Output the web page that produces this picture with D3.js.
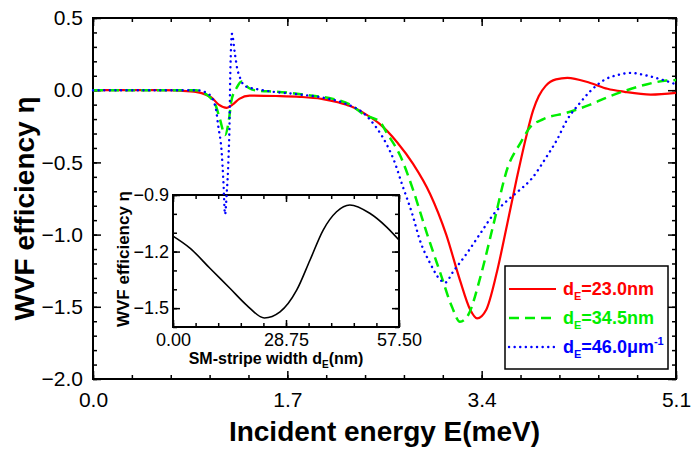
<!DOCTYPE html>
<html><head><meta charset="utf-8">
<script src="https://cdn.jsdelivr.net/npm/d3@7"></script>
<style>
body{margin:0;background:#fff;}
svg{display:block;font-family:"Liberation Sans",Arial,sans-serif;}
</style></head>
<body><svg id="c" width="691" height="449"></svg>
<script>
// ---- data ----
const redE   = [0,0.6,0.85,0.95,1.04,1.1,1.17,1.22,1.28,1.37,1.6,1.81,2.0,2.15,2.25,2.39,2.51,2.66,2.80,2.95,3.09,3.21,3.30,3.36,3.44,3.53,3.62,3.71,3.79,3.85,3.90,3.96,4.05,4.15,4.35,4.5,4.65,4.88,5.1];
const redEta = [0,0,-0.008,-0.02,-0.053,-0.1,-0.122,-0.1,-0.06,-0.037,-0.04,-0.046,-0.06,-0.085,-0.11,-0.169,-0.235,-0.36,-0.51,-0.72,-1.0,-1.315,-1.52,-1.58,-1.52,-1.27,-0.94,-0.6,-0.32,-0.14,-0.04,0.03,0.075,0.086,0.05,0.01,-0.011,-0.03,-0.018];
const greenE   = [0,0.9,0.96,1.07,1.11,1.155,1.19,1.21,1.257,1.30,1.36,1.45,1.6,1.90,2.1,2.25,2.37,2.51,2.57,2.69,2.80,2.92,3.04,3.14,3.21,3.28,3.39,3.50,3.63,3.74,3.82,3.94,4.14,4.35,4.52,4.67,4.84,5.02,5.1];
const greenEta = [0,0,-0.014,-0.1,-0.2,-0.31,-0.2,-0.076,0.017,0.06,0.017,-0.005,-0.01,-0.037,-0.06,-0.1,-0.169,-0.22,-0.296,-0.458,-0.69,-0.99,-1.27,-1.5,-1.604,-1.56,-1.29,-0.94,-0.53,-0.365,-0.26,-0.2,-0.157,-0.1,-0.042,0,0.04,0.067,0.07];
const blueE   = [0,0.9,1.0,1.07,1.096,1.126,1.14,1.155,1.17,1.185,1.195,1.20,1.205,1.215,1.242,1.26,1.286,1.33,1.45,1.81,2.0,2.19,2.38,2.48,2.57,2.63,2.71,2.79,2.86,2.95,3.04,3.08,3.15,3.27,3.39,3.50,3.63,3.72,3.84,3.97,4.06,4.14,4.26,4.35,4.47,4.61,4.70,4.84,4.99,5.1];
const blueEta = [0,0,-0.02,-0.11,-0.25,-0.435,-0.62,-0.86,-0.71,-0.48,-0.2,0.074,0.236,0.39,0.248,0.156,0.086,0.028,0.005,-0.03,-0.05,-0.088,-0.169,-0.26,-0.377,-0.48,-0.667,-0.85,-1.04,-1.2,-1.315,-1.333,-1.257,-1.13,-0.99,-0.863,-0.76,-0.7,-0.61,-0.458,-0.342,-0.215,-0.088,-0.007,0.07,0.109,0.12,0.102,0.07,0.04];
const xMajor = [0,1.7,3.4,5.1];
const yMajor = [-2,-1.5,-1,-0.5,0,0.5];
const insetD   = [0,4.39,9.46,14.54,18.78,23.24,27.23,31.46,34.84,38.21,41.61,44.99,50.06,54.3,57.5];
const insetEta = [-1.118,-1.183,-1.29,-1.396,-1.485,-1.552,-1.52,-1.405,-1.246,-1.086,-0.989,-0.953,-0.997,-1.069,-1.139];
const insetXMajor = [0,28.75,57.5];
const insetYMajor = [-0.9,-1.2,-1.5];
const legendLabels = [["23.0nm",""],["34.5nm",""],["46.0\u03bcm","-1"]];
const colors = ["#ff0000","#00ee00","#0000ff"];

// ---- main chart ----
const svg = d3.select("#c");
const L=93,R=676,T=18,B=379;
const x = d3.scaleLinear([0,5.1],[L,R]);
const y = d3.scaleLinear([-2,0.5],[B,T]);
const xMinor = d3.range(0,5.1001,0.34);
const yMinor = d3.range(-2,0.5001,0.1);

function ticks(g, axisFn, scale, vals, size, fmt, pad){
  g.call(axisFn(scale).tickValues(vals).tickSize(size).tickPadding(pad||3).tickFormat(fmt||""));
  g.select(".domain").remove();
  g.selectAll("line").attr("stroke","#000").attr("stroke-width",1.5);
}
const main = svg.append("g");
ticks(main.append("g").attr("transform",`translate(0,${B})`), d3.axisBottom, x, xMinor, -4);
ticks(main.append("g").attr("transform",`translate(0,${B})`), d3.axisBottom, x, xMajor, -8, d3.format(".1f"), 13);
ticks(main.append("g").attr("transform",`translate(0,${T})`), d3.axisTop, x, xMinor, -4);
ticks(main.append("g").attr("transform",`translate(0,${T})`), d3.axisTop, x, xMajor, -8);
ticks(main.append("g").attr("transform",`translate(${L},0)`), d3.axisLeft, y, yMinor, -4);
ticks(main.append("g").attr("transform",`translate(${L},0)`), d3.axisLeft, y, yMajor, -8, d3.format(".1f"), 10);
ticks(main.append("g").attr("transform",`translate(${R},0)`), d3.axisRight, y, yMinor, -4);
ticks(main.append("g").attr("transform",`translate(${R},0)`), d3.axisRight, y, yMajor, -8);
main.selectAll(".tick text").attr("font-size",21).attr("font-family","Liberation Sans, Arial, sans-serif").attr("fill","#000");
main.append("rect").attr("x",L).attr("y",T).attr("width",R-L).attr("height",B-T)
  .attr("fill","none").attr("stroke","#000").attr("stroke-width",2);

svg.append("text").attr("x",(L+R)/2).attr("y",441).attr("text-anchor","middle")
  .attr("font-size",28).attr("font-weight","bold").text("Incident energy E(meV)");
svg.append("text").attr("transform",`translate(34,${(T+B)/2+10}) rotate(-90)`).attr("text-anchor","middle")
  .attr("font-size",28).attr("font-weight","bold").text("WVF efficiency \u03b7");

// ---- inset ----
const iL=173,iR=399,iT=195,iB=327;
const ix = d3.scaleLinear([0,57.5],[iL,iR]);
const iy = d3.scaleLinear([-1.6,-0.9],[iB,iT]);
const ixMinor = d3.range(0,57.5001,5.75);
const iyMinor = d3.range(-1.6,-0.8999,0.1);
const ins = svg.append("g");
ins.append("rect").attr("x",iL).attr("y",iT).attr("width",iR-iL).attr("height",iB-iT).attr("fill","#fff");
ticks(ins.append("g").attr("transform",`translate(0,${iB})`), d3.axisBottom, ix, ixMinor, -4);
ticks(ins.append("g").attr("transform",`translate(0,${iB})`), d3.axisBottom, ix, insetXMajor, -7, d3.format(".2f"), 6);
ticks(ins.append("g").attr("transform",`translate(0,${iT})`), d3.axisTop, ix, ixMinor, -4);
ticks(ins.append("g").attr("transform",`translate(0,${iT})`), d3.axisTop, ix, insetXMajor, -7);
ticks(ins.append("g").attr("transform",`translate(${iL},0)`), d3.axisLeft, iy, iyMinor, -4);
ticks(ins.append("g").attr("transform",`translate(${iL},0)`), d3.axisLeft, iy, insetYMajor, -7, d3.format(".1f"), 4);
ticks(ins.append("g").attr("transform",`translate(${iR},0)`), d3.axisRight, iy, iyMinor, -4);
ticks(ins.append("g").attr("transform",`translate(${iR},0)`), d3.axisRight, iy, insetYMajor, -7);
ins.selectAll(".tick text").attr("font-size",18).attr("font-family","Liberation Sans, Arial, sans-serif").attr("fill","#000");
ins.append("rect").attr("x",iL).attr("y",iT).attr("width",iR-iL).attr("height",iB-iT)
  .attr("fill","none").attr("stroke","#000").attr("stroke-width",2);
ins.append("path").datum(insetD.map((d,i)=>[d,insetEta[i]]))
  .attr("d",d3.line().x(d=>ix(d[0])).y(d=>iy(d[1])).curve(d3.curveMonotoneX))
  .attr("fill","none").attr("stroke","#000").attr("stroke-width",1.6);
const ixl = ins.append("text").attr("x",(iL+iR)/2-10).attr("y",364).attr("text-anchor","middle")
  .attr("font-size",16).attr("font-weight","bold");
ixl.append("tspan").text("SM-stripe width d");
ixl.append("tspan").attr("font-size",10).attr("dy",4).text("E");
ixl.append("tspan").attr("dy",-4).text("(nm)");
ins.append("text").attr("transform",`translate(129,${(iT+iB)/2-2}) rotate(-90)`).attr("text-anchor","middle")
  .attr("font-size",17).attr("font-weight","bold").text("WVF efficiency \u03b7");

// ---- curves ----
const line = d3.line().x(d=>x(d[0])).y(d=>y(d[1])).curve(d3.curveMonotoneX);
const series = [[redE,redEta],[greenE,greenEta],[blueE,blueEta]];
const dash = [null,"10,6","0.1,5.5"];
const widths = [2.2,2.5,2.4];
series.forEach((s,k)=>{
  svg.append("path").datum(s[0].map((e,i)=>[e,s[1][i]]))
    .attr("d",line).attr("fill","none").attr("stroke",colors[k]).attr("stroke-width",widths[k])
    .attr("stroke-dasharray",dash[k]).attr("stroke-linecap",k==2?"round":"butt");
});

// ---- legend ----
const lg = svg.append("g");
lg.append("rect").attr("x",505).attr("y",266).attr("width",163).attr("height",103)
  .attr("fill","#fff").attr("stroke","#000").attr("stroke-width",1.5);
const rowY=[289,318,347];
legendLabels.forEach((lab,k)=>{
  lg.append("line").attr("x1",509).attr("x2",556).attr("y1",rowY[k]).attr("y2",rowY[k])
    .attr("stroke",colors[k]).attr("stroke-width",widths[k]).attr("stroke-dasharray",dash[k])
    .attr("stroke-linecap",k==2?"round":"butt");
  const t = lg.append("text").attr("x",563).attr("y",rowY[k]+6).attr("font-size",18)
    .attr("font-weight","bold").attr("fill",colors[k]);
  t.append("tspan").text("d");
  t.append("tspan").attr("font-size",11).attr("dy",5).text("E");
  t.append("tspan").attr("dy",-5).text("="+lab[0]);
  if(lab[1]) t.append("tspan").attr("font-size",11).attr("dy",-8).text(lab[1]);
});
</script></body></html>
